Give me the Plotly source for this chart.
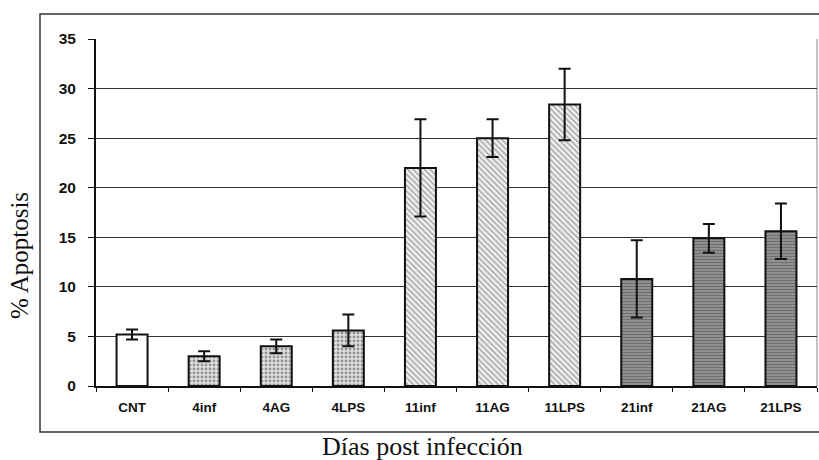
import plotly.graph_objects as go

# Apoptosis percentage by group (mean ± error)
categories = ["CNT", "4inf", "4AG", "4LPS", "11inf", "11AG", "11LPS", "21inf", "21AG", "21LPS"]
apoptosis = [5.2, 3.0, 4.0, 5.6, 22.0, 25.0, 28.4, 10.8, 14.9, 15.6]
errors = [0.5, 0.5, 0.7, 1.6, 4.9, 1.9, 3.6, 3.9, 1.45, 2.8]
y_title = "% Apoptosis"
x_title = "Días post infección"

# Fill styles per day group
patterns = [""] + ["."] * 3 + ["\\"] * 3 + ["-"] * 3
fg_colors = ["#000000"] + ["#707070"] * 3 + ["#8a8a8a"] * 3 + ["#3a3a3a"] * 3
bg_colors = ["#ffffff"] + ["#e0e0e0"] * 3 + ["#efefef"] * 3 + ["#9a9a9a"] * 3
pattern_sizes = [8] + [4] * 3 + [4] * 3 + [3] * 3
solidity = [0.3] + [0.4] * 3 + [0.3] * 3 + [0.5] * 3

fig = go.Figure()
fig.add_trace(go.Bar(
    x=categories,
    y=apoptosis,
    error_y=dict(type="data", array=errors, visible=True,
                 color="#111111", thickness=2, width=6),
    marker=dict(
        color=bg_colors,
        line=dict(color="#111111", width=2),
        pattern=dict(shape=patterns, fgcolor=fg_colors, bgcolor=bg_colors,
                     size=pattern_sizes, solidity=solidity, fillmode="overlay"),
    ),
    showlegend=False,
))

W, H = 819, 460
ml, mr, mt, mb = 96, 2, 39, 74
pw = W - ml - mr
ph = H - mt - mb


def px_x(x):
    return (x - ml) / pw


def px_y(y):
    return (H - mb - y) / ph


# Outer frame around the chart
fig.add_shape(type="rect", xref="paper", yref="paper",
              x0=px_x(40), x1=px_x(824), y0=px_y(432), y1=px_y(14),
              line=dict(color="#333333", width=1.5), fillcolor="rgba(0,0,0,0)",
              layer="below")
# Thin right border of the plotting area
fig.add_shape(type="line", xref="paper", yref="paper",
              x0=1, x1=1, y0=0, y1=1,
              line=dict(color="#888888", width=1), layer="below")

serif = "Liberation Serif, Times New Roman, serif"
fig.add_annotation(text=x_title, xref="paper", yref="paper",
                   x=px_x(422), y=px_y(446), xanchor="center", yanchor="middle",
                   showarrow=False, font=dict(family=serif, size=26, color="#111111"))
fig.add_annotation(text=y_title, xref="paper", yref="paper",
                   x=px_x(19), y=px_y(256), xanchor="center", yanchor="middle",
                   textangle=-90, showarrow=False,
                   font=dict(family=serif, size=25, color="#111111"))

sans = "Liberation Sans, Arial, sans-serif"
fig.update_layout(
    width=W, height=H,
    margin=dict(l=ml, r=mr, t=mt, b=mb),
    paper_bgcolor="white", plot_bgcolor="white",
    bargap=0.57,
    font=dict(family=sans, color="#111111"),
    xaxis=dict(
        showline=True, linecolor="#111111", linewidth=1.5,
        ticks="outside", tickson="boundaries", ticklen=4, tickcolor="#111111",
        tickfont=dict(size=13.5, family=sans, weight="bold"),
        ticklabelstandoff=8,
        showgrid=False,
    ),
    yaxis=dict(
        range=[0, 35], dtick=5,
        showline=True, linecolor="#111111", linewidth=2,
        ticks="outside", ticklen=6, tickcolor="#111111",
        tickfont=dict(size=15.5, family=sans, weight="bold"),
        ticklabelstandoff=9,
        showgrid=True, gridcolor="#333333", gridwidth=1.3,
        zeroline=False,
    ),
)

fig.write_html("out.html")
